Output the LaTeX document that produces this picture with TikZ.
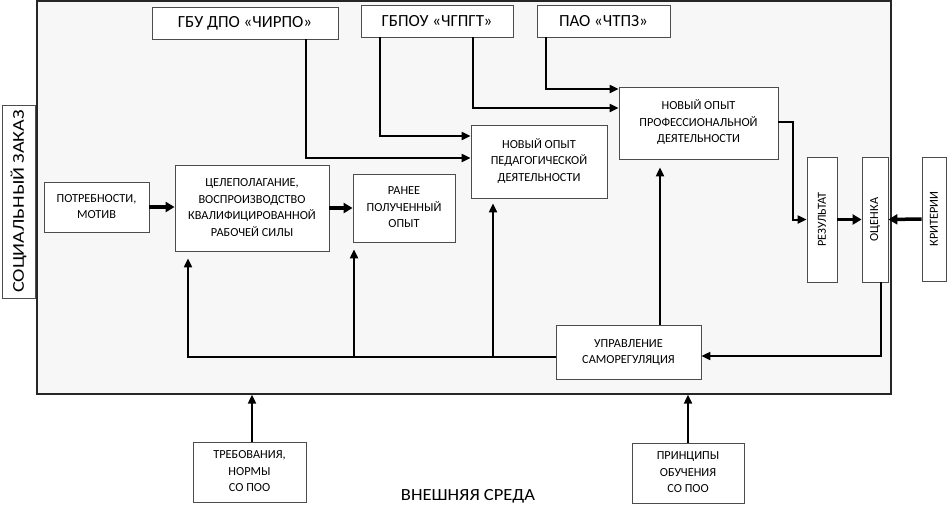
\documentclass[tikz,border=0pt]{standalone}
\usepackage{fontspec}
\usepackage{graphicx}
\setmainfont{Carlito}
\usetikzlibrary{arrows.meta,calc}
\newcommand\boxtext[2][3pt]{\raisebox{#1}{\begin{tabular}{@{}c@{}}#2\end{tabular}}}
\begin{document}
\begin{tikzpicture}[x=1pt,y=-1pt,
  box/.style={draw=black!70, line width=0.8pt, fill=white, inner sep=0pt,
    font=\fontsize{12.3}{16.5}\selectfont},
  bigbox/.style={box, font=\fontsize{17}{19}\selectfont},
  conn/.style={line width=2pt, -{Triangle[length=9pt,width=8pt]}},
  fat/.style={line width=3.5pt, -{Triangle[length=9pt,width=10pt]}},
]
\useasboundingbox (0,0) rectangle (948,504);

% frame
\node[draw=black!85, line width=1.3pt, fill=black!3, minimum width=854pt, minimum height=393pt, inner sep=0pt] (frame) at (464,197.5) {};

% side and bottom boxes
\node[box, minimum width=33pt, minimum height=193pt] (soc) at (18.5,201.5) {\rotatebox{90}{\scalebox{1.22}[1]{\fontsize{16.5}{18}\selectfont СОЦИАЛЬНЫЙ ЗАКАЗ}}};
\node[box, minimum width=24pt, minimum height=124pt] (krit) at (934,219) {\rotatebox{90}{КРИТЕРИИ}};
\node[box, minimum width=113pt, minimum height=60pt] (treb) at (249.5,472) {\boxtext[0pt]{ТРЕБОВАНИЯ,\\НОРМЫ\\СО ПОО}};
\node[box, minimum width=112pt, minimum height=60pt] (princ) at (688,473) {\boxtext[0pt]{ПРИНЦИПЫ\\ОБУЧЕНИЯ\\СО ПОО}};
\node[font=\fontsize{17}{19}\selectfont, inner sep=0pt] (env) at (468,496) {\scalebox{1.09}[1]{ВНЕШНЯЯ СРЕДА}};

% top boxes
\node[bigbox, minimum width=186pt, minimum height=32pt] (chirpo) at (245,23) {ГБУ ДПО «ЧИРПО»};
\node[bigbox, minimum width=152pt, minimum height=32pt] (chgpgt) at (437,21) {ГБПОУ «ЧГПГТ»};
\node[bigbox, minimum width=133pt, minimum height=32pt] (chtpz) at (603.5,21) {ПАО «ЧТПЗ»};

% inner boxes
\node[box, minimum width=159pt, minimum height=72pt] (prof) at (698.5,123) {\boxtext[5pt]{НОВЫЙ ОПЫТ\\ПРОФЕССИОНАЛЬНОЙ\\ДЕЯТЕЛЬНОСТИ}};
\node[box, minimum width=136pt, minimum height=73pt] (ped) at (539,161.5) {\boxtext[5pt]{НОВЫЙ ОПЫТ\\ПЕДАГОГИЧЕСКОЙ\\ДЕЯТЕЛЬНОСТИ}};
\node[box, minimum width=105pt, minimum height=50pt] (potr) at (96.5,207) {\boxtext[2pt]{ПОТРЕБНОСТИ,\\МОТИВ}};
\node[box, minimum width=154pt, minimum height=86pt] (cel) at (252,208) {\boxtext[3.5pt]{ЦЕЛЕПОЛАГАНИЕ,\\ВОСПРОИЗВОДСТВО\\КВАЛИФИЦИРОВАННОЙ\\РАБОЧЕЙ СИЛЫ}};
\node[box, minimum width=102pt, minimum height=68pt] (ranee) at (404,208) {\boxtext[3pt]{РАНЕЕ\\ПОЛУЧЕННЫЙ\\ОПЫТ}};
\node[box, minimum width=30pt, minimum height=125pt] (rez) at (822,219.5) {\rotatebox{90}{РЕЗУЛЬТАТ}};
\node[box, minimum width=26pt, minimum height=125pt] (ocen) at (875,219.5) {\rotatebox{90}{ОЦЕНКА}};
\node[box, minimum width=145pt, minimum height=54pt] (upr) at (628.5,352) {\boxtext[3.5pt]{УПРАВЛЕНИЕ\\САМОРЕГУЛЯЦИЯ}};

% connectors from the top boxes
\draw[conn] ([xshift=61pt]chirpo.south) |- ([yshift=3.5pt]ped.west);
\draw[conn] ([xshift=-57pt]chgpgt.south) |- ([yshift=25.5pt]ped.west);
\draw[conn] ([xshift=36pt]chgpgt.south) |- ([yshift=15pt]prof.west);
\draw[conn] ([xshift=-57.5pt]chtpz.south) |- ([yshift=34pt]prof.west);

% right part
\draw[conn] ([yshift=1pt]prof.east) -- ++(15,0) |- (rez.west);
\draw[fat] (rez.east) -- (ocen.west);
\draw[fat] (krit.west) -- (ocen.east);
\draw[conn] ([xshift=6pt]ocen.south) |- ([yshift=-4pt]upr.east);

% control loop
\coordinate (u1) at ([xshift=31.5pt]upr.north);
\draw[conn, shorten >=8pt] (u1) -- (u1 |- prof.south);
\coordinate (u2) at ([yshift=-5pt]upr.west);
\coordinate (c1) at ([xshift=-64pt]cel.south);
\draw[conn, shorten >=7pt] (u2) -| (c1);
\coordinate (r1) at ([xshift=-50pt]ranee.south);
\draw[conn, shorten >=7pt] (r1 |- u2) -- (r1);
\coordinate (p1) at ([xshift=-46pt]ped.south);
\draw[conn, shorten >=5pt] (p1 |- u2) -- (p1);

% left chain
\draw[fat] (potr.east) -- (potr.east -| cel.west);
\draw[fat] (cel.east) -- (ranee.west);

% from the environment
\coordinate (t1) at ([xshift=2.5pt]treb.north);
\draw[conn] (t1) -- (t1 |- frame.south);
\draw[conn] (princ.north) -- (princ.north |- frame.south);
\end{tikzpicture}
\end{document}
